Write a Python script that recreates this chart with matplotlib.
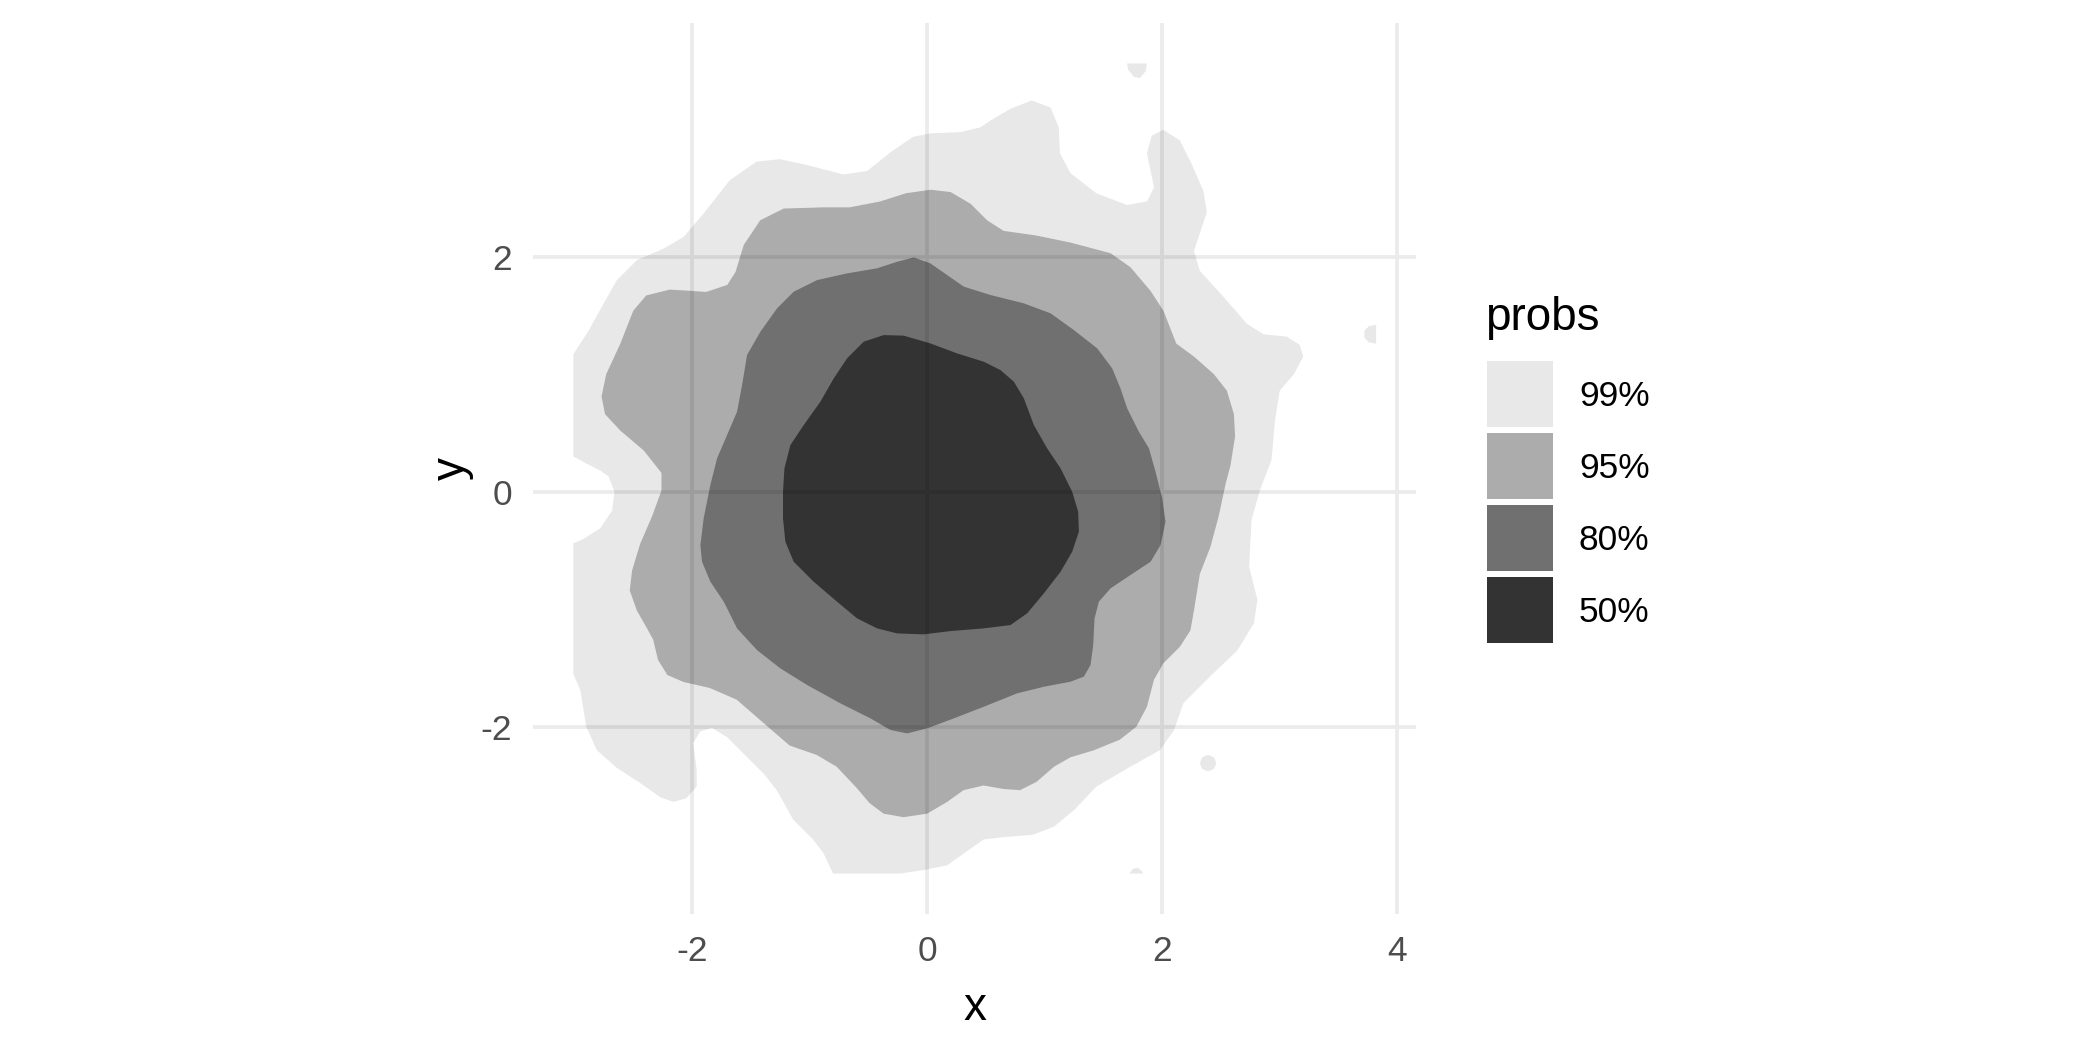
import matplotlib
matplotlib.use("Agg")
import matplotlib.pyplot as plt
from matplotlib.patches import Rectangle

plt.rcParams['font.family'] = ['Liberation Sans', 'DejaVu Sans']
plt.rcParams['axes.unicode_minus'] = False

# HDR levels and their legend colours (black with alpha on white)
probs = ["99%", "95%", "80%", "50%"]
key_colors = ["#E8E8E8", "#ACACAC", "#707070", "#333333"]

x_ticks = [-2, 0, 2, 4]
y_ticks = [-2, 0, 2]

# outlines of each region
hdr99_x = [-3.01, -3.01, -2.88, -2.77, -2.64, -2.47, -2.24, -2.07, -1.90, -1.68,
           -1.45, -1.25, -1.02, -0.71, -0.51, -0.31, -0.12, 0.03, 0.28, 0.45,
           0.54, 0.71, 0.89, 1.05, 1.12, 1.13, 1.22, 1.44, 1.70, 1.87,
           1.93, 1.87, 1.91, 2.01, 2.15, 2.25, 2.35, 2.38, 2.32, 2.27,
           2.32, 2.52, 2.72, 2.86, 3.06, 3.17, 3.20, 3.12, 3.00, 2.96,
           2.93, 2.83, 2.76, 2.74, 2.81, 2.78, 2.64, 2.41, 2.18, 2.10,
           1.98, 1.73, 1.44, 1.25, 1.08, 0.90, 0.65, 0.48, 0.31, 0.17,
           -0.03, -0.23, -0.80, -0.88, -0.97, -1.14, -1.28, -1.39, -1.56, -1.70,
           -1.83, -1.93, -1.99, -1.96, -1.96, -2.05, -2.16, -2.27, -2.44, -2.64,
           -2.81, -2.90, -2.95, -3.01, -3.01, -2.92, -2.78, -2.68, -2.66, -2.71,
           -2.78, -2.90]
hdr99_y = [0.30, 1.17, 1.37, 1.57, 1.80, 1.97, 2.07, 2.17, 2.37, 2.65,
           2.81, 2.83, 2.78, 2.70, 2.73, 2.89, 3.02, 3.05, 3.06, 3.10,
           3.16, 3.26, 3.33, 3.27, 3.10, 2.88, 2.71, 2.54, 2.44, 2.47,
           2.59, 2.88, 3.03, 3.08, 2.99, 2.79, 2.56, 2.38, 2.20, 2.05,
           1.88, 1.66, 1.43, 1.34, 1.32, 1.25, 1.15, 1.00, 0.86, 0.61,
           0.27, 0.01, -0.24, -0.64, -0.92, -1.12, -1.35, -1.57, -1.80, -2.03,
           -2.20, -2.34, -2.51, -2.71, -2.85, -2.92, -2.94, -2.96, -3.08, -3.18,
           -3.22, -3.25, -3.25, -3.08, -2.96, -2.79, -2.54, -2.40, -2.23, -2.09,
           -2.01, -2.04, -2.14, -2.37, -2.51, -2.61, -2.64, -2.60, -2.48, -2.35,
           -2.20, -2.00, -1.69, -1.55, -0.44, -0.40, -0.31, -0.16, 0.00, 0.13,
           0.18, 0.24]

# small detached 99% islands
island_top_x = [1.70, 1.87, 1.86, 1.81, 1.76, 1.71]
island_top_y = [3.645, 3.645, 3.58, 3.52, 3.53, 3.59]
island_right_x = [3.82, 3.76, 3.72, 3.72, 3.76, 3.82]
island_right_y = [1.42, 1.41, 1.37, 1.31, 1.27, 1.26]
island_dot_x = [2.39, 2.44, 2.46, 2.44, 2.39, 2.34, 2.32, 2.34]
island_dot_y = [-2.24, -2.26, -2.31, -2.36, -2.38, -2.36, -2.31, -2.26]
island_bottom_x = [1.72, 1.75, 1.79, 1.82, 1.84]
island_bottom_y = [-3.25, -3.21, -3.20, -3.22, -3.25]

hdr95_x = [-2.26, -2.41, -2.61, -2.74, -2.77, -2.73, -2.61, -2.50, -2.39, -2.19,
           -2.02, -1.88, -1.70, -1.63, -1.56, -1.42, -1.22, -0.88, -0.66, -0.40,
           -0.18, 0.03, 0.20, 0.37, 0.51, 0.65, 0.93, 1.22, 1.56, 1.73,
           1.90, 2.01, 2.12, 2.27, 2.44, 2.55, 2.61, 2.62, 2.58, 2.54,
           2.48, 2.41, 2.32, 2.27, 2.24, 2.15, 2.01, 1.93, 1.87, 1.78,
           1.64, 1.42, 1.22, 1.08, 0.93, 0.79, 0.65, 0.48, 0.31, 0.17,
           0.00, -0.20, -0.37, -0.49, -0.60, -0.77, -0.94, -1.17, -1.39, -1.62,
           -1.85, -2.07, -2.21, -2.29, -2.33, -2.39, -2.47, -2.53, -2.51, -2.44,
           -2.34, -2.26]
hdr95_y = [0.16, 0.35, 0.52, 0.66, 0.81, 1.00, 1.26, 1.54, 1.67, 1.72,
           1.71, 1.70, 1.76, 1.87, 2.10, 2.31, 2.41, 2.42, 2.42, 2.47,
           2.54, 2.57, 2.55, 2.45, 2.31, 2.22, 2.18, 2.12, 2.03, 1.91,
           1.71, 1.54, 1.26, 1.15, 1.00, 0.86, 0.66, 0.47, 0.22, 0.07,
           -0.21, -0.47, -0.70, -1.01, -1.18, -1.32, -1.46, -1.60, -1.83, -2.00,
           -2.11, -2.20, -2.26, -2.34, -2.47, -2.54, -2.53, -2.50, -2.54, -2.64,
           -2.74, -2.77, -2.74, -2.65, -2.52, -2.34, -2.24, -2.16, -1.97, -1.77,
           -1.67, -1.62, -1.56, -1.43, -1.26, -1.15, -1.01, -0.84, -0.67, -0.44,
           -0.21, 0.01]

hdr80_x = [-1.929, -1.901, -1.844, -1.787, -1.702, -1.617, -1.574, -1.532, -1.418, -1.277,
           -1.135, -0.936, -0.681, -0.426, -0.255, -0.113, 0.028, 0.170, 0.312, 0.539,
           0.823, 1.050, 1.248, 1.447, 1.574, 1.645, 1.702, 1.801, 1.887, 1.943,
           2.000, 2.028, 1.986, 1.901, 1.730, 1.560, 1.461, 1.424, 1.413, 1.390,
           1.333, 1.220, 0.993, 0.766, 0.482, 0.227, 0.000, -0.170, -0.312, -0.482,
           -0.738, -1.021, -1.248, -1.447, -1.617, -1.730, -1.844, -1.915]
hdr80_y = [-0.454, -0.227, 0.057, 0.284, 0.482, 0.681, 0.908, 1.163, 1.362, 1.560,
           1.702, 1.801, 1.858, 1.901, 1.957, 1.994, 1.943, 1.844, 1.745, 1.674,
           1.603, 1.518, 1.376, 1.220, 1.050, 0.879, 0.709, 0.511, 0.369, 0.170,
           -0.057, -0.255, -0.454, -0.596, -0.709, -0.823, -0.936, -1.078, -1.305, -1.475,
           -1.574, -1.617, -1.660, -1.716, -1.830, -1.929, -2.014, -2.057, -2.028, -1.929,
           -1.801, -1.645, -1.504, -1.348, -1.163, -0.936, -0.766, -0.596]

hdr50_x = [-1.226, -1.214, -1.163, -1.050, -0.908, -0.794, -0.681, -0.539, -0.369, -0.199,
           0.028, 0.255, 0.482, 0.624, 0.738, 0.823, 0.908, 1.021, 1.135, 1.234,
           1.285, 1.291, 1.234, 1.135, 0.993, 0.851, 0.709, 0.482, 0.199, -0.028,
           -0.255, -0.426, -0.596, -0.766, -0.965, -1.135, -1.206, -1.226]
hdr50_y = [0.000, 0.199, 0.397, 0.567, 0.766, 0.965, 1.135, 1.277, 1.333, 1.328,
           1.262, 1.177, 1.106, 1.035, 0.936, 0.794, 0.567, 0.369, 0.199, 0.000,
           -0.170, -0.340, -0.511, -0.681, -0.865, -1.035, -1.135, -1.163, -1.186, -1.214,
           -1.206, -1.163, -1.078, -0.936, -0.766, -0.596, -0.426, -0.227]

regions = [
    [(hdr99_x, hdr99_y), (island_top_x, island_top_y), (island_right_x, island_right_y),
     (island_dot_x, island_dot_y), (island_bottom_x, island_bottom_y)],
    [(hdr95_x, hdr95_y)],
    [(hdr80_x, hdr80_y)],
    [(hdr50_x, hdr50_y)],
]

fig = plt.figure(figsize=(7, 3.5), dpi=300)
ax = fig.add_axes([533 / 2100, 136 / 1050, 883 / 2100, 891 / 1050])

# regions are nested, so stack black layers whose alphas multiply to the key colours
prev = 1.0
for shapes, col in zip(regions, key_colors):
    v = int(col[1:3], 16) / 255
    a = 1 - v / prev
    prev = v
    for xs, ys in shapes:
        ax.fill(xs, ys, color='black', alpha=a, lw=0, zorder=2)

ax.set_xlim(-3.353, 4.159)
ax.set_ylim(-3.594, 3.989)
ax.set_xticks(x_ticks)
ax.set_yticks(y_ticks)
ax.grid(color='#EBEBEB', lw=0.9)
ax.set_axisbelow(True)
for s in ax.spines.values():
    s.set_visible(False)
ax.tick_params(length=0, pad=5, labelsize=8.5, labelcolor='#4D4D4D')
ax.set_xlabel('x', fontsize=11, labelpad=4.4)
ax.set_ylabel('y', fontsize=11, labelpad=1.6)

# legend
fig.text(1485 / 2100, 1 - 330 / 1050, 'probs', fontsize=11, ha='left', va='baseline')
for i, (lab, col) in enumerate(zip(probs, key_colors)):
    top = 361 + 72 * i
    fig.add_artist(Rectangle((1487 / 2100, 1 - (top + 66) / 1050), 66 / 2100, 66 / 1050,
                             transform=fig.transFigure, color=col, lw=0))
    fig.text(1579 / 2100, 1 - (top + 45) / 1050, lab, fontsize=8.5, ha='left', va='baseline')

fig.savefig('out.png', dpi=300, facecolor='white')
